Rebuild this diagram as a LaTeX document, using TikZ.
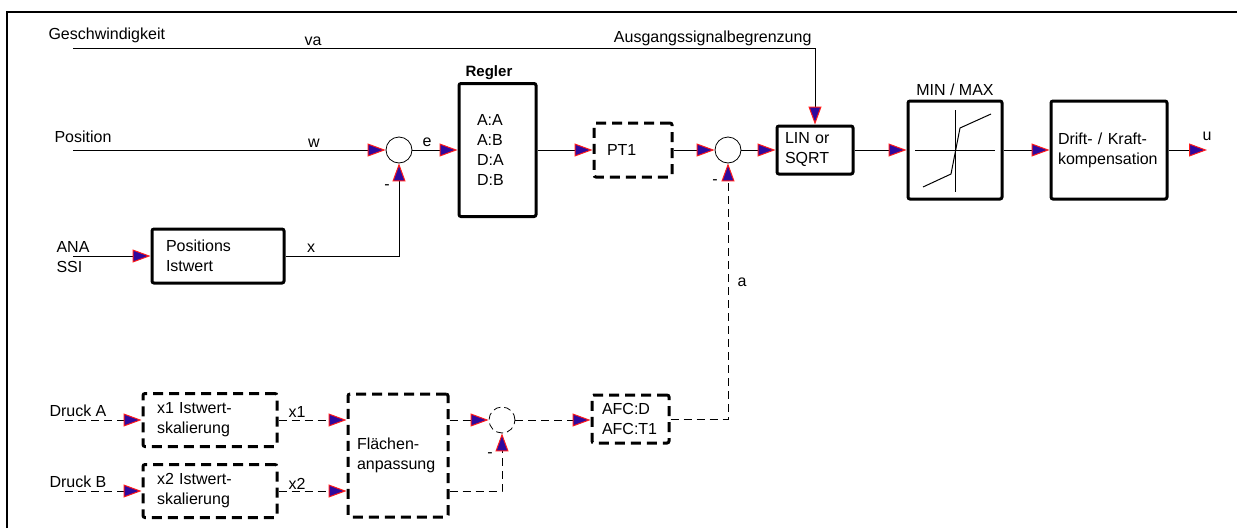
\documentclass[tikz,border=0pt]{standalone}
\usepackage{fontspec}
\setmainfont{Liberation Sans}
\usetikzlibrary{arrows.meta,positioning}
\definecolor{tipblue}{HTML}{2E0A9E}
\definecolor{tipred}{HTML}{FF1A1A}

\begin{document}
\begin{tikzpicture}[x=1pt,y=-1pt,font=\fontsize{16}{20}\selectfont,
    >={Triangle[length=18pt,width=13pt,fill=tipblue,color=tipred]},
    blk/.style={draw,line width=3pt,rounded corners=2pt,align=left},
    blkd/.style={blk,dash pattern=on 10pt off 6pt},
    sum/.style={circle,draw,line width=0.8pt,minimum size=26pt,inner sep=0pt},
    sumd/.style={sum,dash pattern=on 7pt off 4pt},
    sig/.style={->,line width=1pt},
    sigd/.style={sig,dash pattern=on 8pt off 5pt}]
    \useasboundingbox (0,0) rectangle (1237,528);
    \draw[line width=1.5pt] (7,528) -- (7,12) -- (1237,12);

    % upper loop
    \node[anchor=west] (geschw) at (45,35) {Geschwindigkeit};
    \node (va) at (313,41) {va};
    \node[anchor=east] (begrenz) at (815,38) {Ausgangssignalbegrenzung};
    \node[anchor=west] (pos) at (51,137) {Position};
    \node (w) at (314,143) {w};
    \node[anchor=west,align=left] (anassi) at (53,257) {ANA\\SSI};

    \node[blk,minimum width=132pt,minimum height=54pt,inner xsep=14pt,text width=104pt]
        (posist) at (218,256) {Positions\\Istwert};
    \node[sum] (s1) at (399,150) {};
    \node[blk,minimum width=77pt,minimum height=133pt,inner xsep=18pt,text width=41pt]
        (regler) at (497.5,150) {A:A\\A:B\\D:A\\D:B};
    \node[font=\bfseries\fontsize{15}{18}\selectfont] (reglerlbl) at (489,73) {Regler};
    \node[blkd,minimum width=78pt,minimum height=54pt,inner xsep=13pt,text width=52pt]
        (pt1) at (633,150) {PT1};
    \node[sum] (s2) at (728,150) {};
    \node[blk,minimum width=76pt,minimum height=48pt,inner xsep=8pt,text width=60pt]
        (lin) at (815,150) {LIN or\\SQRT};
    \node[blk,minimum width=94pt,minimum height=98pt] (minmax) at (955,150) {};
    \node (minmaxlbl) at (955,90) {MIN / MAX};
    \node[blk,minimum width=116pt,minimum height=98pt,inner xsep=7pt,text width=102pt]
        (drift) at (1109,150) {Drift- / Kraft-\\kompensation};
    \node (u) at (1207,136) {u};

    \node (e) at (427,142) {e};
    \node (x) at (311,248) {x};
    \node (m1) at (387,187) {-};
    \node (m2) at (715,182) {-};
    \node (a) at (742,282) {a};

    % characteristic
    \draw[line width=1pt] (915,150) -- (995,150) (955,110) -- (955,192);
    \draw[line width=1pt] (923,187) -- (951,174) -- (960,128) -- (991,114);

    \coordinate (gstart) at (73,48);
    \coordinate (pstart) at (73,150);
    \coordinate (astart) at (73,256);
    \coordinate (uend) at (1207,150);

    \draw[sig] (gstart) -| (lin.north);
    \draw[sig] (pstart) -- (s1.west);
    \draw[sig] (astart) -- (posist.west);
    \draw[sig] (posist.east) -| (s1.south);
    \draw[sig] (s1.east) -- (regler.west);
    \draw[sig] (regler.east) -- (pt1.west);
    \draw[sig] (pt1.east) -- (s2.west);
    \draw[sig] (s2.east) -- (lin.west);
    \draw[sig] (lin.east) -- (minmax.west);
    \draw[sig] (minmax.east) -- (drift.west);
    \draw[sig] (drift.east) -- (uend);

    % pressure branch
    \node[anchor=west] (druckA) at (46,411) {Druck A};
    \node[anchor=west] (druckB) at (46,482) {Druck B};
    \node[blkd,minimum width=134pt,minimum height=53pt,inner xsep=14pt,text width=106pt]
        (x1) at (210,420) {x1 Istwert-\\skalierung};
    \node[blkd,minimum width=134pt,minimum height=53pt,inner xsep=14pt,text width=106pt]
        (x2) at (210,491) {x2 Istwert-\\skalierung};
    \node (x1lbl) at (297,412) {x1};
    \node (x2lbl) at (297,484) {x2};
    \node[blkd,minimum width=100pt,minimum height=123pt,inner xsep=9pt,text width=82pt]
        (fl) at (398,455.5) {Flächen-\\anpassung};
    \node[sumd] (s3) at (502,420) {};
    \node (m3) at (490,455) {-};
    \node[blkd,minimum width=77pt,minimum height=48pt,inner xsep=10pt,text width=57pt]
        (afc) at (630.5,419) {AFC:D\\AFC:T1};

    \coordinate (dastart) at (65,420);
    \coordinate (dbstart) at (65,491);

    \draw[sigd] (dastart) -- (x1.west);
    \draw[sigd] (dbstart) -- (x2.west);
    \draw[sigd] (x1.east) -- (x1.east -| fl.west);
    \draw[sigd] (x2.east) -- (x2.east -| fl.west);
    \draw[sigd] (fl.east |- s3) -- (s3.west);
    \draw[sigd] (fl.east |- x2) -| (s3.south);
    \draw[sigd] (s3.east) -- (s3 -| afc.west);
    \draw[sigd] (afc.east) -| (s2.south);
\end{tikzpicture}
\end{document}
